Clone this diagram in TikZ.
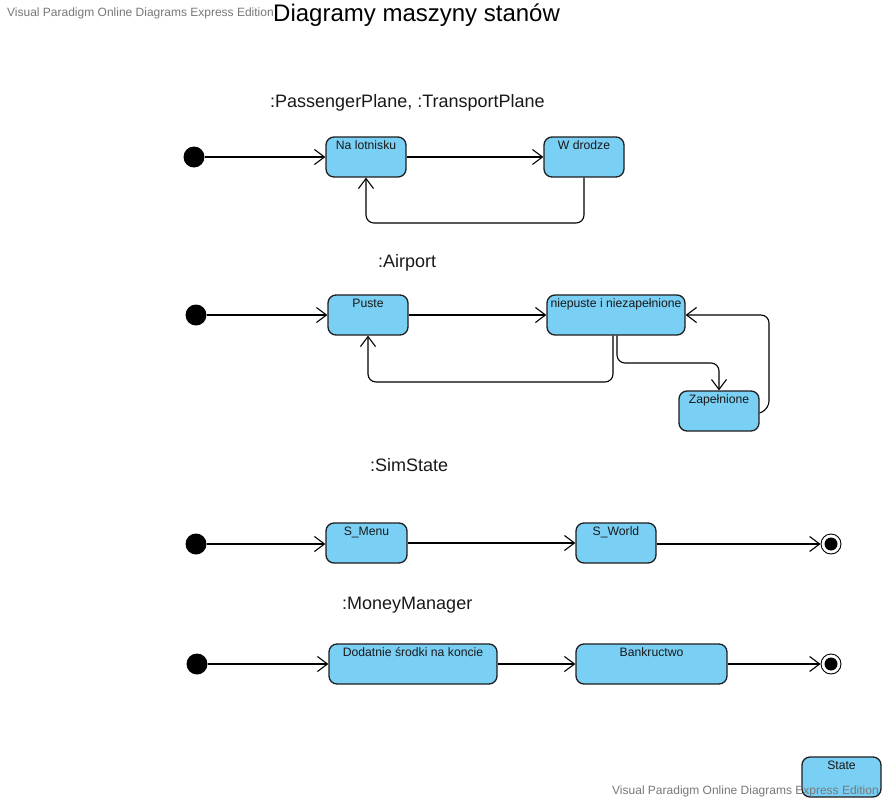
\documentclass[tikz,border=0pt]{standalone}
\usepackage{fontspec}
\setmainfont{Liberation Sans}
\usetikzlibrary{arrows.meta}
\definecolor{stfill}{RGB}{122,207,245}
\definecolor{wmgray}{RGB}{120,120,120}
\definecolor{stborder}{RGB}{30,30,30}
\begin{document}
\begin{tikzpicture}[x=1pt,y=-1pt,
  stbox/.style={draw=stborder, fill=stfill, rounded corners=8pt, line width=1.3pt,
    minimum width=#1, minimum height=40pt, inner sep=0pt},
  stbox/.default=80pt,
  sttext/.style={label={[anchor=north, inner sep=0pt, yshift=-4.5pt, text height=8.8pt, text depth=2pt,
    font=\fontsize{12.2}{14}\selectfont, text=black!90]north:#1}},
  initst/.style={circle, fill=black, minimum size=21pt, inner sep=0pt},
  finalst/.style={circle, draw=black, line width=0.9pt, fill=white, minimum size=20pt, inner sep=0pt,
    path picture={\fill[black] (path picture bounding box.center) circle[radius=6.5pt];}},
  tr/.style={line width=1.1pt, -{Straight Barb[length=10pt, width=15pt, line width=1.1pt]}},
  trr/.style={tr, rounded corners=8pt},
  heading/.style={anchor=base west, inner sep=0pt, font=\fontsize{18}{20}\selectfont, text=black!90},
  wm/.style={anchor=base west, inner sep=0pt, font=\fontsize{12}{14}\selectfont, text=wmgray}
]
\useasboundingbox (0,0) rectangle (884,800);
\fill[white] (0,0) rectangle (884,800);

% titles
\node[wm] (wmtop) at (7,17) {Visual Paradigm Online Diagrams Express Edition};
\node[anchor=base west, inner sep=0pt, font=\fontsize{24}{28}\selectfont] (title) at (273,22) {Diagramy maszyny stanów};

% --- Plane
\node[heading] (h1) at (270,107) {:PassengerPlane, :TransportPlane};
\node[initst] (i1) at (194,157) {};
\node[stbox=80pt, sttext={Na lotnisku}] (nl) at (366,157) {};
\node[stbox=80pt, sttext={W drodze}] (wd) at (584,157) {};
\draw[tr, line width=1.6pt] (i1) -- (nl.west);
\draw[tr] (nl.east) -- (wd.west);
\draw[trr] (wd.south) -- (wd.south |- 0,223) -| (nl.south);

% --- Airport
\node[heading] (h2) at (378,267) {:Airport};
\node[initst] (i2) at (196,315) {};
\node[stbox=80pt, sttext={Puste}] (pu) at (368,315) {};
\node[stbox=138pt, sttext={niepuste i niezapełnione}] (np) at (616,315) {};
\node[stbox=80pt, sttext={Zapełnione}] (zp) at (719,411) {};
\draw[tr, line width=1.6pt] (i2) -- (pu.west);
\draw[tr] (pu.east) -- (np.west);
\draw[trr] ([xshift=-3pt]np.south) -- ([xshift=-3pt]np.south |- 0,382) -| (pu.south);
\draw[trr] ([xshift=1pt]np.south) -- ([xshift=1pt]np.south |- 0,363) -| (zp.north);
\draw[trr] ([yshift=-2pt]zp.east) -- (769,409) |- (np.east);

% --- SimState
\node[heading] (h3) at (370,471) {:SimState};
\node[initst] (i3) at (196,544) {};
\node[stbox=81pt, sttext={S\_Menu}] (sm) at (366.5,543) {};
\node[stbox=80pt, sttext={S\_World}] (sw) at (616,543) {};
\node[finalst] (f1) at (831,544) {};
\draw[tr] (i3) -- (i3 -| sm.west);
\draw[tr] (sm.east) -- (sw.west);
\draw[tr] (sw.east |- f1) -- (f1.west);

% --- MoneyManager
\node[heading] (h4) at (342,609) {:MoneyManager};
\node[initst] (i4) at (197,664) {};
\node[stbox=168pt, sttext={Dodatnie środki na koncie}] (dd) at (413,664) {};
\node[stbox=151pt, sttext={Bankructwo}] (bk) at (651.5,664) {};
\node[finalst] (f2) at (831,664) {};
\draw[tr] (i4) -- (dd.west);
\draw[tr] (dd.east) -- (bk.west);
\draw[tr] (bk.east) -- (f2.west);

% legend
\node[stbox=79pt, sttext={State}] (leg) at (841.5,777) {};
\node[wm] (wmbot) at (612,794) {Visual Paradigm Online Diagrams Express Edition};
\end{tikzpicture}
\end{document}
